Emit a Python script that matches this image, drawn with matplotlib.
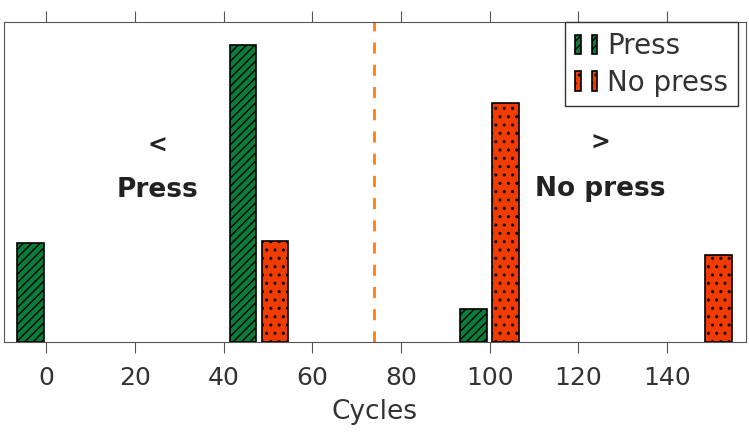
import matplotlib.pyplot as plt
from matplotlib.legend_handler import HandlerTuple

plt.rcParams['font.family'] = ['DejaVu Sans']
plt.rcParams['hatch.linewidth'] = 1.0

press_x = [0, 48, 100]
press = [3.0, 9.0, 1.0]
no_press_x = [48, 100, 148]
no_press = [3.07, 7.25, 2.65]
threshold = 74

green = '#0b7d3b'
red = '#f03c00'
grey = '#555555'
txt = '#333333'

fig, ax = plt.subplots(figsize=(7.49, 4.32), dpi=100)
w = 6
off = 3.6
b1 = ax.bar([g - off for g in press_x], press, width=w, color=green,
            edgecolor='black', hatch='////', linewidth=1.2)
b2 = ax.bar([g + off for g in no_press_x], no_press, width=w, color=red,
            edgecolor='black', hatch='..', linewidth=1.2)

ax.axvline(threshold, color='#ff7f0e', linestyle=(0, (4, 4)), linewidth=2)

ax.text(25, 5.95, '<', ha='center', va='center', fontsize=17, fontweight='bold', color='#222222')
ax.text(25, 4.6, 'Press', ha='center', va='center', fontsize=19, fontweight='bold', color='#222222')
ax.text(125, 6.05, '>', ha='center', va='center', fontsize=17, fontweight='bold', color='#222222')
ax.text(125, 4.65, 'No press', ha='center', va='center', fontsize=19, fontweight='bold', color='#222222')

ax.set_xlim(-9.6, 157.8)
ax.set_ylim(0, 9.68)
ax.set_xticks([0, 20, 40, 60, 80, 100, 120, 140])
ax.set_yticks([])
ax.tick_params(axis='x', top=True, direction='out', length=8, color=grey,
               labelsize=18, labelcolor=txt, pad=9)
for s in ax.spines.values():
    s.set_color(grey)
ax.set_xlabel('Cycles', fontsize=19, color=txt, labelpad=7)

p1 = b1.patches[0]
p2 = b2.patches[0]
leg = ax.legend([(p1, p1), (p2, p2)], ['Press', 'No press'],
                handler_map={tuple: HandlerTuple(ndivide=None, pad=0.4)},
                loc='upper right', bbox_to_anchor=(0.989, 1.0), borderaxespad=0,
                fontsize=20, fancybox=False, framealpha=1, handlelength=0.8,
                handleheight=0.7, handletextpad=0.35, borderpad=0.35, labelspacing=0.3)
leg.get_frame().set_edgecolor(txt)
for t in leg.get_texts():
    t.set_color(txt)

plt.subplots_adjust(left=0.005, right=0.996, top=0.948, bottom=0.208)
plt.savefig('out.png')
